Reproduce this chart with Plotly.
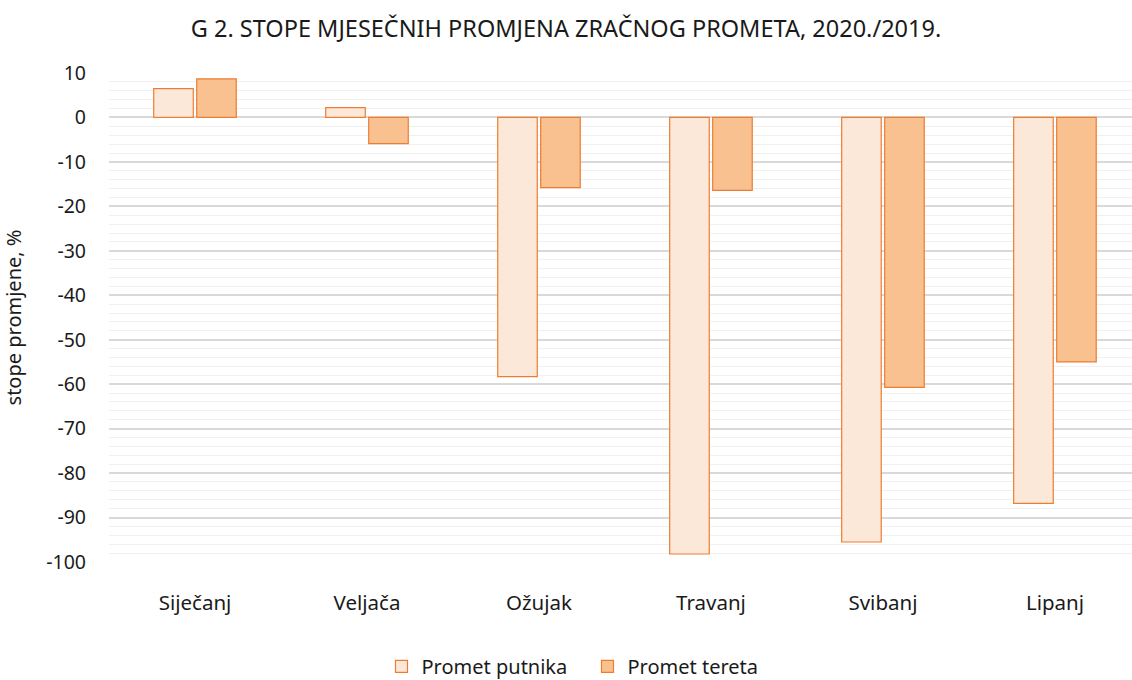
import plotly.graph_objects as go

categories = ["Siječanj", "Veljača", "Ožujak", "Travanj", "Svibanj", "Lipanj"]
promet_putnika = [6.5, 2.2, -58.3, -98.2, -95.5, -86.8]
promet_tereta = [8.7, -5.9, -15.8, -16.4, -60.7, -55.0]
y_ticks = [10, 0, -10, -20, -30, -40, -50, -60, -70, -80, -90, -100]

FONT = "Noto Sans"
TXT = "#1a1a1a"

fig = go.Figure()
fig.add_trace(go.Bar(
    x=categories, y=promet_putnika, name="Promet putnika",
    marker=dict(color="#FCE8D9", line=dict(color="#ED7D31", width=1.2)),
))
fig.add_trace(go.Bar(
    x=categories, y=promet_tereta, name="Promet tereta",
    marker=dict(color="#F9C190", line=dict(color="#ED7D31", width=1.2)),
))

fig.update_layout(
    width=1132, height=680,
    paper_bgcolor="white", plot_bgcolor="white",
    margin=dict(l=109, r=0, t=73, b=118),
    barmode="group", bargap=0.5, bargroupgap=0.08,
    font=dict(family=FONT, size=20, color=TXT),
    title=dict(text="G 2. STOPE MJESEČNIH PROMJENA ZRAČNOG PROMETA, 2020./2019.",
               x=0.5, xref="container", xanchor="center", y=0.958, yanchor="middle",
               font=dict(family=FONT, size=23.5, color=TXT)),
    legend=dict(orientation="h", x=0.519, xref="container", xanchor="center",
                y=0.02, yref="container", yanchor="middle",
                font=dict(family=FONT, size=20), itemwidth=30,
                entrywidth=161, entrywidthmode="pixels",
                traceorder="normal"),
    showlegend=True,
)
fig.update_xaxes(range=[-0.5, 5.448], showgrid=False, showline=False, ticks="",
                 tickfont=dict(family=FONT, size=20.5), ticklabelstandoff=26)
fig.update_yaxes(range=[-100, 10], tickvals=y_ticks, ticktext=[str(v) for v in y_ticks],
                 showgrid=True, gridcolor="#D9D9D9", gridwidth=1.5,
                 minor=dict(dtick=2, tick0=0, showgrid=True, gridcolor="#F0F0F0", gridwidth=1),
                 zeroline=True, zerolinecolor="#D9D9D9", zerolinewidth=1.5,
                 showline=False, ticks="", ticklabelstandoff=22,
                 tickfont=dict(family=FONT, size=19.5),
                 title=dict(text="stope promjene, %", standoff=20,
                            font=dict(family=FONT, size=20)))

fig.write_html("out.html", config={"displayModeBar": False},
               post_script="document.body.style.margin='0';document.body.style.overflow='hidden';")
